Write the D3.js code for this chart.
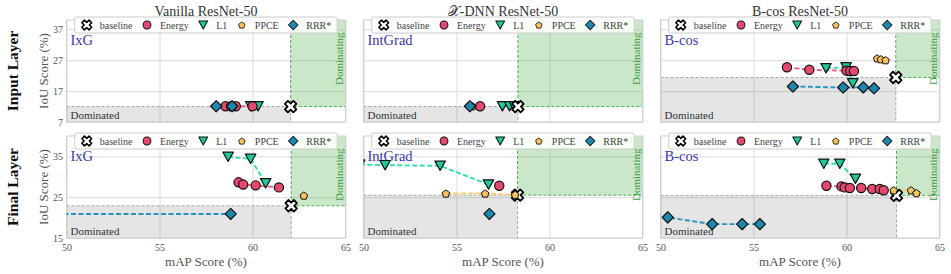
<!DOCTYPE html>
<html>
<head>
<meta charset="utf-8">
<script src="https://cdn.jsdelivr.net/npm/d3@7"></script>
<style>
  body { margin: 0; background: #fff; }
  svg { display: block; }
  text { font-family: "Liberation Serif", "DejaVu Serif", serif; }
</style>
</head>
<body>
<svg id="chart" width="951" height="274"></svg>
<script>
// ---- data (panels in row order: input vanilla, input x-dnn, input b-cos, final vanilla, final x-dnn, final b-cos)
const models = ["Vanilla ResNet-50", "\u{1D4B3}-DNN ResNet-50", "B-cos ResNet-50"];
const layers = ["Input Layer", "Final Layer"];
const explainers = ["IxG", "IntGrad", "B-cos"];
const methods = ["baseline", "Energy", "L1", "PPCE", "RRR*"];
const xTicks = [50, 55, 60, 65];
const yTicksInput = [7, 17, 27, 37];
const yTicksFinal = [15, 25, 35];

const baselinePts = [[62.05, 12.0], [58.3, 12.0], [62.65, 21.4], [62.08, 22.9], [58.28, 25.5], [62.69, 25.45]];

const energyPts = [
  [[58.55, 12.1], [58.85, 12.1], [59.1, 12.1], [60.0, 12.1]],
  [[56.27, 12.1]],
  [[56.8, 24.7], [58.0, 23.9], [60.0, 23.6], [60.2, 23.5], [60.4, 23.5]],
  [[59.25, 28.65], [59.5, 28.1], [60.17, 27.9], [61.42, 27.4]],
  [[57.3, 27.8]],
  [[58.92, 27.8], [59.73, 27.65], [59.9, 27.4], [60.18, 27.25], [60.79, 27.25], [61.38, 27.0], [61.79, 27.0], [62.0, 26.7]]
];
const l1Pts = [
  [[59.9, 12.1], [60.3, 12.1]],
  [[57.47, 12.1], [57.85, 12.1], [58.1, 12.1]],
  [[58.9, 24.4], [59.98, 24.7], [60.34, 19.5]],
  [[58.69, 34.9], [59.9, 34.4], [60.71, 28.4]],
  [[49.8, 33.0], [51.16, 32.85], [54.12, 32.7], [56.72, 28.1]],
  [[58.78, 33.2], [59.64, 33.2], [60.48, 29.5]]
];
const ppcePts = [
  [[58.95, 12.1]],
  [[55.86, 12.1]],
  [[61.65, 27.6], [61.85, 27.3], [62.1, 27.0]],
  [[62.76, 25.4]],
  [[54.43, 25.9], [56.54, 25.9], [58.15, 25.6]],
  [[62.54, 26.7], [63.47, 26.7], [63.76, 26.0]]
];
const rrrPts = [
  [[58.05, 12.1], [58.9, 12.1]],
  [[55.72, 12.1]],
  [[57.12, 18.5], [59.82, 18.15], [60.9, 18.2], [61.48, 17.9]],
  [[45.0, 20.9], [58.83, 20.9]],
  [[56.77, 20.9]],
  [[48.5, 20.5], [50.39, 20.05], [52.78, 18.4], [54.39, 18.4], [55.34, 18.4]]
];

// ---- layout
const plotW = 279, plotH = 102;
const lefts = [66.5, 363.5, 660.5];
const tops = [20, 136];
const yDomains = [[7, 40], [15, 40]];
const yTicks = [yTicksInput, yTicksFinal];

const fills = { Energy: "#e5486e", L1: "#1ec99b", PPCE: "#f8c35c", "RRR*": "#1b88b0" };
const lineCols = { Energy: "#ef5d83", L1: "#32dcad", PPCE: "#fccb70", "RRR*": "#2a92c0" };

// marker shapes
function xPath(s) {
  const t = s * 0.36;
  const pts = [[t, s], [t, t], [s, t], [s, -t], [t, -t], [t, -s], [-t, -s], [-t, -t], [-s, -t], [-s, t], [-t, t], [-t, s]];
  const c = Math.SQRT1_2;
  return "M" + pts.map(([a, b]) => [(a - b) * c, (a + b) * c].map(v => v.toFixed(2)).join(",")).join("L") + "Z";
}
function triDown(s) { return `M${-s},${-s * 0.9}L${s},${-s * 0.9}L0,${s * 0.9}Z`; }
function diamond(s) { return `M0,${-s}L${s},0L0,${s}L${-s},0Z`; }
function pentagon(r) {
  const p = d3.range(5).map(k => {
    const a = (-90 + 72 * k) * Math.PI / 180;
    return [r * Math.cos(a), r * Math.sin(a) + r * 0.1];
  });
  return "M" + p.map(q => q.map(v => v.toFixed(2)).join(",")).join("L") + "Z";
}
function drawMarker(sel, m) {
  if (m === "baseline") return sel.append("path").attr("d", xPath(6)).attr("fill", "#fff").attr("stroke", "#000").attr("stroke-width", 1.8).attr("stroke-linejoin", "round");
  if (m === "Energy") return sel.append("circle").attr("r", 4.6).attr("fill", fills[m]).attr("stroke", "#111").attr("stroke-width", 1.2);
  if (m === "L1") return sel.append("path").attr("d", triDown(5.2)).attr("fill", fills[m]).attr("stroke", "#111").attr("stroke-width", 1.2).attr("stroke-linejoin", "round");
  if (m === "PPCE") return sel.append("path").attr("d", pentagon(4)).attr("fill", fills[m]).attr("stroke", "#111").attr("stroke-width", 1).attr("stroke-linejoin", "round");
  return sel.append("path").attr("d", diamond(5.6)).attr("fill", fills[m]).attr("stroke", "#111").attr("stroke-width", 1.2).attr("stroke-linejoin", "round");
}

const svg = d3.select("#chart");
const defs = svg.append("defs");

for (let r = 0; r < 2; r++) {
  for (let c = 0; c < 3; c++) {
    const i = r * 3 + c;
    const left = lefts[c], top = tops[r];
    const x = d3.scaleLinear().domain([50, 65]).range([left, left + plotW]);
    const y = d3.scaleLinear().domain(yDomains[r]).range([top + plotH, top]);
    const g = svg.append("g");

    defs.append("clipPath").attr("id", "clip" + i)
      .append("rect").attr("x", left).attr("y", top).attr("width", plotW).attr("height", plotH);

    // grid via axes
    const ya = g.append("g").attr("transform", `translate(${left},0)`)
      .call(d3.axisLeft(y).tickValues(yTicks[r]).tickSize(-plotW).tickPadding(3.5)
        .tickFormat(c === 0 ? d3.format("d") : () => ""));
    const xa = g.append("g").attr("transform", `translate(0,${top + plotH})`)
      .call(d3.axisBottom(x).tickValues(xTicks).tickSize(-plotH).tickPadding(6)
        .tickFormat(r === 1 ? d3.format("d") : () => ""));
    [ya, xa].forEach(a => {
      a.select(".domain").remove();
      a.selectAll("line").attr("stroke", "#dcdcdc").attr("stroke-width", 1);
      a.selectAll("text").attr("fill", "#555").style("font-size", "10px")
        .style("font-family", '"Liberation Serif", serif');
    });

    // regions
    const [bx, by] = baselinePts[i];
    g.append("rect").attr("x", left).attr("y", y(by)).attr("width", x(bx) - left).attr("height", top + plotH - y(by))
      .attr("fill", "#000").attr("opacity", 0.1);
    g.append("rect").attr("x", x(bx)).attr("y", top).attr("width", left + plotW - x(bx)).attr("height", y(by) - top)
      .attr("fill", "#2ca02c").attr("opacity", 0.25);
    g.append("path").attr("d", `M${left},${y(by)}H${x(bx)}V${top + plotH}`)
      .attr("fill", "none").attr("stroke", "#a8a8a8").attr("stroke-width", 1).attr("stroke-dasharray", "3,2");
    g.append("path").attr("d", `M${x(bx)},${top}V${y(by)}H${left + plotW}`)
      .attr("fill", "none").attr("stroke", "#4caf50").attr("stroke-width", 1).attr("stroke-dasharray", "3,2");

    // frame
    g.append("rect").attr("x", left).attr("y", top).attr("width", plotW).attr("height", plotH)
      .attr("fill", "none").attr("stroke", "#cfcfcf").attr("stroke-width", 1);

    // region labels
    g.append("text").attr("x", left + 4).attr("y", top + plotH - 3).attr("fill", "#333")
      .style("font-size", "11px").text("Dominated");
    const dy = top + plotH - plotH * 0.62;
    g.append("text").attr("transform", `translate(${left + plotW - 2.5},${dy}) rotate(-90)`)
      .attr("text-anchor", "middle").attr("fill", "#3f9f3f").style("font-size", "11px").text("Dominating");

    // explainer label
    g.append("text").attr("x", left + 4).attr("y", top + 24.5).attr("fill", "#3838b0")
      .style("font-size", "14.5px").text(explainers[c]);

    // series
    const clipped = g.append("g").attr("clip-path", `url(#clip${i})`);
    const line = d3.line().x(d => x(d[0])).y(d => y(d[1]));
    const series = [["L1", l1Pts[i]], ["Energy", energyPts[i]], ["PPCE", ppcePts[i]], ["RRR*", rrrPts[i]]];
    series.forEach(([m, pts]) => {
      if (pts.length > 1) {
        clipped.append("path").datum(pts).attr("d", line).attr("fill", "none")
          .attr("stroke", lineCols[m]).attr("stroke-width", 1.9).attr("stroke-dasharray", "5,2.5");
      }
    });
    const order = [["L1", l1Pts[i]], ["Energy", energyPts[i]], ["baseline", [baselinePts[i]]], ["PPCE", ppcePts[i]], ["RRR*", rrrPts[i]]];
    order.forEach(([m, pts]) => {
      pts.forEach(p => {
        const mg = clipped.append("g").attr("transform", `translate(${x(p[0])},${y(p[1])})`);
        drawMarker(mg, m);
      });
    });

    // legend
    const lg = g.append("g");
    const box = lg.append("rect").attr("y", top - 3).attr("height", 16).attr("rx", 2)
      .attr("fill", "#fff").attr("fill-opacity", 0.85).attr("stroke", "#cccccc").attr("stroke-width", 1);
    let cur = 12;
    methods.forEach(m => {
      const mg = lg.append("g").attr("transform", `translate(${cur},${top + 5}) scale(0.85)`);
      drawMarker(mg, m);
      const t = lg.append("text").attr("x", cur + 13).attr("y", top + 8.5).attr("fill", "#444")
        .style("font-size", "10px").text(m);
      cur = cur + 13 + t.node().getComputedTextLength() + 14.5;
    });
    const lw = cur - 14.5 + 6;
    box.attr("x", 0).attr("width", lw);
    lg.attr("transform", `translate(${left + plotW / 2 - lw / 2},0)`);

    // titles & axis labels
    if (r === 0) {
      svg.append("text").attr("x", left + plotW / 2).attr("y", 16).attr("text-anchor", "middle")
        .attr("fill", "#333").style("font-size", "14px").text(models[c]);
    } else {
      svg.append("text").attr("x", left + plotW / 2).attr("y", 266).attr("text-anchor", "middle")
        .attr("fill", "#555").style("font-size", "13px").text("mAP Score (%)");
    }
    if (c === 0) {
      svg.append("text").attr("transform", `translate(47.5,${top + plotH / 2}) rotate(-90)`)
        .attr("text-anchor", "middle").attr("fill", "#555").style("font-size", "13px").text("IoU Score (%)");
      svg.append("text").attr("transform", `translate(18,${top + plotH / 2}) rotate(-90)`)
        .attr("text-anchor", "middle").attr("fill", "#111").style("font-size", "15.5px")
        .style("font-weight", "bold").text(layers[r]);
    }
  }
}
</script>
</body>
</html>
